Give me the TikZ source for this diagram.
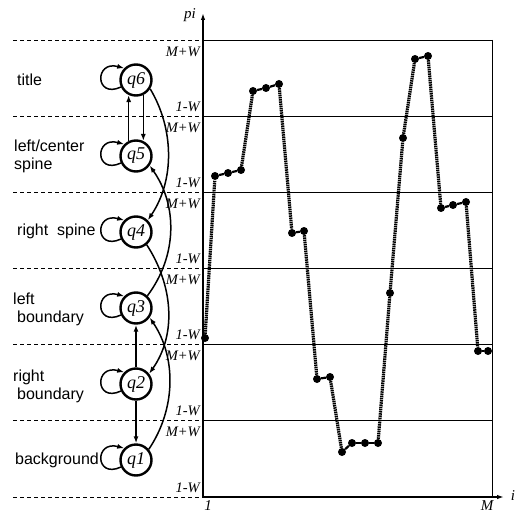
\documentclass[tikz,border=0pt]{standalone}
\usepackage{fontspec}
\setmainfont{Liberation Serif}
\setsansfont{Liberation Sans}
\usetikzlibrary{arrows.meta,calc}
\begin{document}
\begin{tikzpicture}[x=1bp,y=-1bp,
  qstate/.style={circle,draw,line width=2.4bp,minimum size=31bp,inner sep=0pt,font=\fontsize{18bp}{19bp}\selectfont\itshape},
  datadot/.style={circle,fill,inner sep=0pt,minimum size=8bp},
  lbl/.style={font=\sffamily\fontsize{16bp}{18bp}\selectfont,align=left,inner sep=0pt,anchor=west},
  band/.style={font=\fontsize{14.5bp}{16bp}\selectfont\itshape,inner sep=0pt,anchor=east},
  axlbl/.style={font=\fontsize{15bp}{17bp}\selectfont\itshape,inner sep=0pt},
  arr/.style={line width=1.5bp,-{Latex[length=7bp,width=5bp]}},
  gridline/.style={line width=0.9bp},
  guideline/.style={line width=0.9bp,dash pattern=on 4bp off 3bp},
  axisline/.style={line width=1.5bp,-{Latex[length=7bp,width=4.5bp]}},
  jumpline/.style={line width=3.2bp,dash pattern=on 1.5bp off 0.7bp},
  flatline/.style={line width=2.2bp}]
\useasboundingbox (0,0) rectangle (523,512);
% guide lines and bands
\foreach \y in {40,116,192,268,344,420,497} \draw[guideline] (13,\y) -- (203,\y);
\foreach \y in {40,116,192,268,344,420} \draw[gridline] (203,\y) -- (492,\y);
\draw[gridline] (492,40) -- (492,497);
\foreach \y in {40,116,192,268,344,420} \node[band] (mw\y) at (200,\y+12) {M+W};
\foreach \y in {116,192,268,344,420,497} \node[band] (ow\y) at (200,\y-9) {1-W};
% axes
\coordinate (o) at (203,497);
\coordinate (ytop) at (203,13);
\coordinate (xend) at (504,497);
\draw[axisline] (o) -- (ytop);
\draw[axisline] (o) -- (xend);
\node[axlbl] (plab) at (190,15) {pi};
\node[axlbl] (ilab) at (513,496) {i};
\node[axlbl,anchor=north] (onelab) at (208,500) {1};
\node[axlbl,anchor=north] (mlab) at (487,500) {M};
% states
\node[qstate] (q6) at (136,80) {q6};
\node[qstate] (q5) at (136,156) {q5};
\node[qstate] (q4) at (136,232) {q4};
\node[qstate] (q3) at (136,308) {q3};
\node[qstate] (q2) at (136,384) {q2};
\node[qstate] (q1) at (136,460) {q1};
% state names
\node[lbl] (t6) at (17,80) {title};
\node[lbl] (t5) at (14,156) {left/center\\spine};
\node[lbl] (t4) at (17,231) {right\ \ spine};
\node[lbl] (t3) at (13,309) {left\\\hspace*{4bp}boundary};
\node[lbl] (t2) at (13,386) {right\\\hspace*{4bp}boundary};
\node[lbl] (t1) at (15,460) {background};
% self loops
\foreach \q in {q1,q2,q3,q4,q5,q6}
  \draw[arr] (\q.205) .. controls +(-26,12) and +(-30,-8) .. (\q.135);
% transitions
\draw[arr] (q5.116) -- (q6.-116);
\draw[arr] (q6.-64) -- (q5.64);
\draw[arr] (q2.north) -- (q3.south);
\draw[arr] (q2.south) -- (q1.north);
\draw[arr] (q6.-32) .. controls +(24,40) and +(27,-40) .. (q4.45);
\draw[arr] (q3.47) .. controls +(30,-40) and +(28,40) .. (q5.-35);
\draw[arr] (q4.-50) .. controls +(26,40) and +(28,-40) .. (q2.38);
\draw[arr] (q1.40) .. controls +(27,-40) and +(27,40) .. (q3.-35);
% data
\foreach \x/\y [count=\n] in {205/338,215/176,228/173,241/170,253/91,266/88,279/84,292/233,304/231,317/379,330/377,342/452,352/443,365/443,378/443,390/293,403/138,415/59,428/56,441/208,453/205,466/202,478/351,488/351}
  \node[datadot] (p\n) at (\x,\y) {};
\foreach \a/\b in {1/2,4/5,7/8,9/10,11/12,15/16,16/17,17/18,19/20,22/23}
  \draw[jumpline] (p\a) -- (p\b);
\foreach \a/\b in {2/3,3/4,5/6,6/7,8/9,10/11,12/13,13/14,14/15,18/19,20/21,21/22,23/24}
  \draw[flatline] (p\a) -- (p\b);
\end{tikzpicture}
\end{document}
